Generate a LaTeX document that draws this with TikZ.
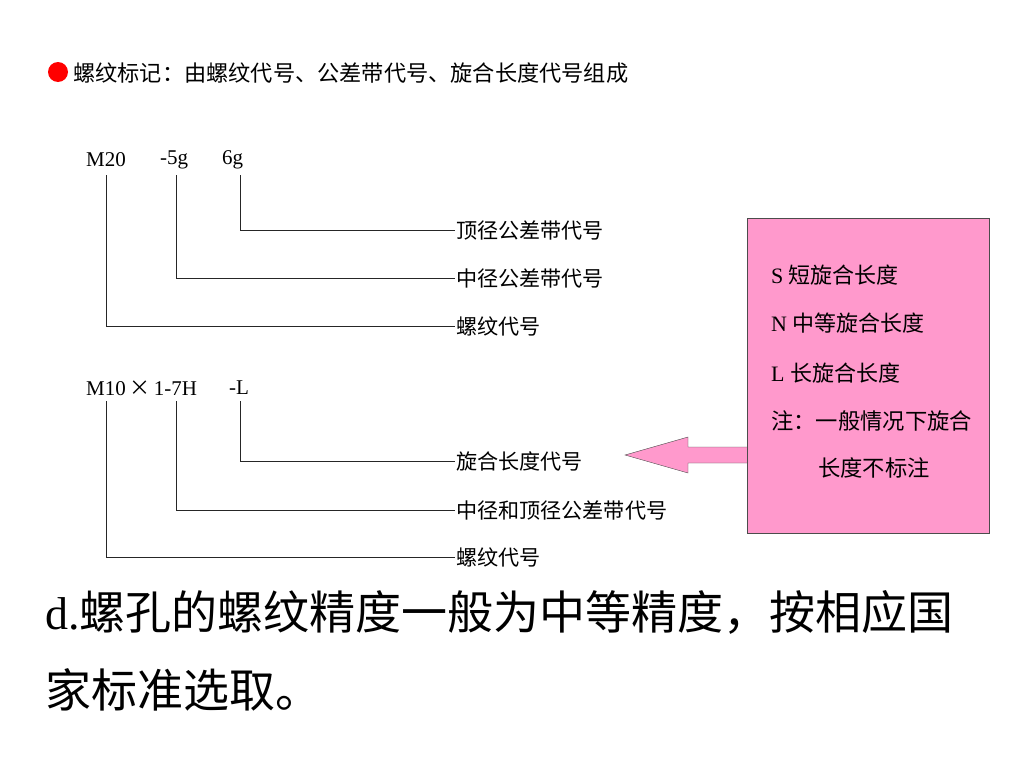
\documentclass[tikz,border=0pt]{standalone}
\usepackage{fontspec}
\setmainfont{Liberation Serif}
\newfontfamily\cjk{Noto Sans CJK SC}
\usetikzlibrary{positioning}
\tikzset{>=latex}
\definecolor{boxpink}{RGB}{255,153,204}
\tikzset{
  code/.style={anchor=west, inner sep=0pt, font=\fontsize{21}{21}\selectfont},
  lbl/.style={anchor=west, inner sep=1pt, font=\fontsize{21.1}{21}\selectfont\cjk},
  lead/.style={black!85, line width=0.9pt},
}

\begin{document}
\begin{tikzpicture}[x=1pt, y=-1pt]
    \useasboundingbox (0,0) rectangle (1024,768);

    \fill[red] (58,72) circle (10);
    \node[lbl, font=\fontsize{22.2}{22}\selectfont\cjk] (title) at (72,73) {螺纹标记：由螺纹代号、公差带代号、旋合长度代号组成};

    % M20-5g6g
    \node[code] (m20) at (86,160) {M20};
    \node[code] (g5) at (160,160) {-5g};
    \node[code] (g6) at (222,160) {6g};
    \coordinate (t1) at (106,175);
    \coordinate (t2) at (176,175);
    \coordinate (t3) at (240,175);
    \node[lbl] (a1) at (455,230) {顶径公差带代号};
    \node[lbl] (a2) at (455,278) {中径公差带代号};
    \node[lbl] (a3) at (455,326) {螺纹代号};
    \draw[lead] (t3) |- (a1.west);
    \draw[lead] (t2) |- (a2.west);
    \draw[lead] (t1) |- (a3.west);

    % M10x1-7H-L
    \node[code] (m10) at (86,388) {M10{\cjk\,×\,}1-7H};
    \node[code] (ll) at (229,388) {-L};
    \coordinate (s1) at (106,401);
    \coordinate (s2) at (176,401);
    \coordinate (s3) at (240,401);
    \node[lbl] (b1) at (455,461) {旋合长度代号};
    \node[lbl] (b2) at (455,510) {中径和顶径公差带代号};
    \node[lbl] (b3) at (455,557) {螺纹代号};
    \draw[lead] (s3) |- (b1.west);
    \draw[lead] (s2) |- (b2.west);
    \draw[lead] (s1) |- (b3.west);

    % length of engagement
    \node[draw=black!70, fill=boxpink, minimum width=242pt, minimum height=315pt, inner sep=0pt] (box) at (868,375.5) {};
    \node[code, font=\fontsize{22}{22}\selectfont] (s) at (771,275) {S {\cjk 短旋合长度}};
    \node[code, font=\fontsize{22}{22}\selectfont] (n) at (771,323) {N {\cjk 中等旋合长度}};
    \node[code, font=\fontsize{22}{22}\selectfont] (l) at (771,373) {L {\cjk 长旋合长度}};
    \node[lbl, inner sep=0pt, font=\fontsize{22.3}{22}\selectfont\cjk] (note) at (771,421) {注：一般情况下旋合};
    \node[lbl, inner sep=0pt, font=\fontsize{22.3}{22}\selectfont\cjk] (note2) at (818,468) {长度不标注};
    \draw[black!70, fill=boxpink] (box.west |- 0,447) -- (688,447) -- (688,437) -- (625,455)
        -- (688,473) -- (688,463) -- (box.west |- 0,463);

    \node[code, font=\fontsize{46}{46}\selectfont] (d1) at (45,612) {d.{\cjk 螺孔的螺纹精度一般为中等精度，按相应国}};
    \node[code, font=\fontsize{46}{46}\selectfont] (d2) at (45,690) {\cjk 家标准选取。};

\end{tikzpicture}
\end{document}
